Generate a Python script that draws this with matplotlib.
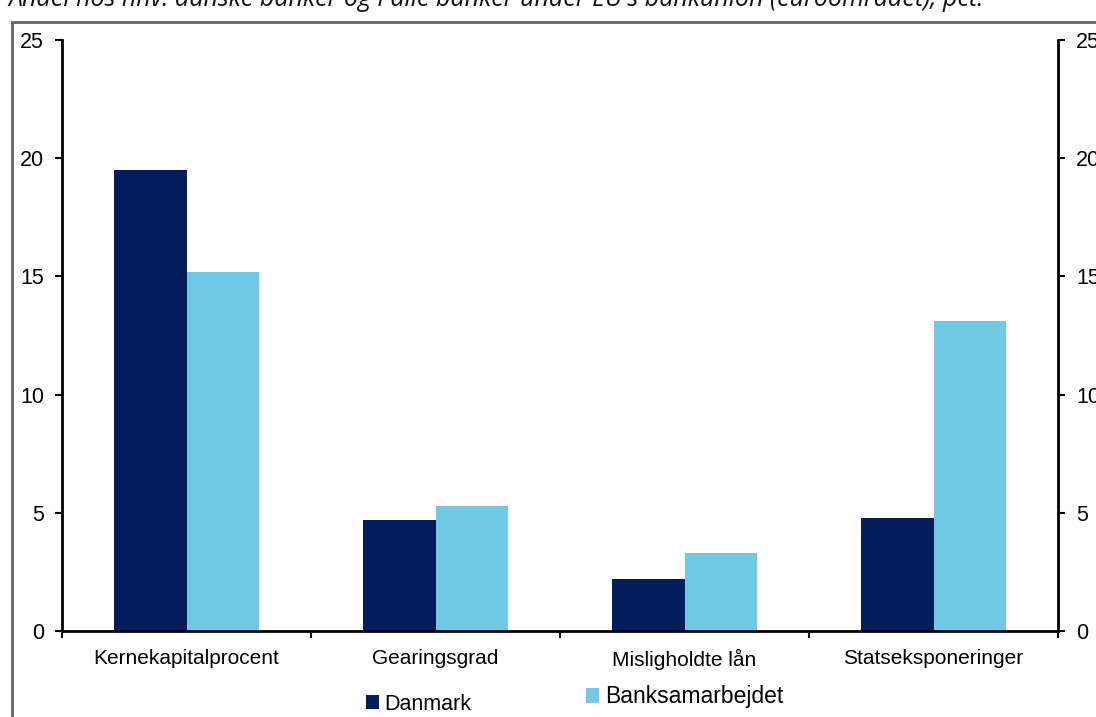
import numpy as np
import matplotlib.pyplot as plt
from matplotlib.patches import Rectangle

categories = ["Kernekapitalprocent", "Gearingsgrad", "Misligholdte lån", "Statseksponeringer"]
danmark = [19.5, 4.7, 2.2, 4.8]
banksamarbejdet = [15.2, 5.3, 3.3, 13.1]
series_names = ["Danmark", "Banksamarbejdet"]
title = "Andel hos hhv. danske banker og i alle banker under EU's bankunion (euroområdet), pct."

dark_blue = "#021c5c"
light_blue = "#6fc8e4"

plt.rcParams["font.family"] = ["Liberation Sans", "DejaVu Sans"]

fig = plt.figure(figsize=(10.96, 7.17), dpi=100)
ax = fig.add_axes([62 / 1096, 1 - 631 / 717, (1058 - 62) / 1096, (631 - 40) / 717])

x = np.arange(len(categories))
w = 0.29
b1 = ax.bar(x - w / 2, danmark, w, color=dark_blue, zorder=2)
b2 = ax.bar(x + w / 2, banksamarbejdet, w, color=light_blue, zorder=2)

ax.set_xlim(-0.5, len(categories) - 0.5)
ax.set_ylim(0, 25)
ax.set_yticks(np.arange(0, 26, 5))
ax.tick_params(axis="y", labelsize=15.5, width=1.5, length=5, direction="out",
               left=True, right=True, labelleft=True, labelright=True, pad=8)

# category labels sit between the boundary ticks
ax.set_xticks(np.arange(-0.5, len(categories), 1))
ax.set_xticklabels([])
ax.set_xticks(x, minor=True)
ax.set_xticklabels(categories, minor=True, fontsize=15)
ax.tick_params(axis="x", which="major", width=1.5, length=5, direction="out")
ax.tick_params(axis="x", which="minor", length=0, pad=13)

ax.spines["top"].set_visible(False)
for s in ["left", "right", "bottom"]:
    ax.spines[s].set_linewidth(2)

# outer frame of the original figure
fig.patches.append(Rectangle((12 / 1096, -0.2), 1.2, 1.2 + (717 - 22) / 717 - 1.0,
                             transform=fig.transFigure, fill=False,
                             edgecolor="#666666", linewidth=2))

fig.text(8 / 1096, 1 - 6 / 717, title, fontsize=18, style="italic",
         family=["Open Sans", "DejaVu Sans"], va="baseline", ha="left", color="#111111")

fig.legend([b1], [series_names[0]], loc="center left", bbox_to_anchor=(347 / 1096, 1 - 704 / 717),
           frameon=False, fontsize=15.5, handlelength=0.6, handleheight=0.6, handletextpad=0.25)
fig.legend([b2], [series_names[1]], loc="center left", bbox_to_anchor=(565 / 1096, 1 - 697 / 717),
           frameon=False, fontsize=16.5, handlelength=0.6, handleheight=0.6, handletextpad=0.25)

fig.savefig("out.png", dpi=100)
